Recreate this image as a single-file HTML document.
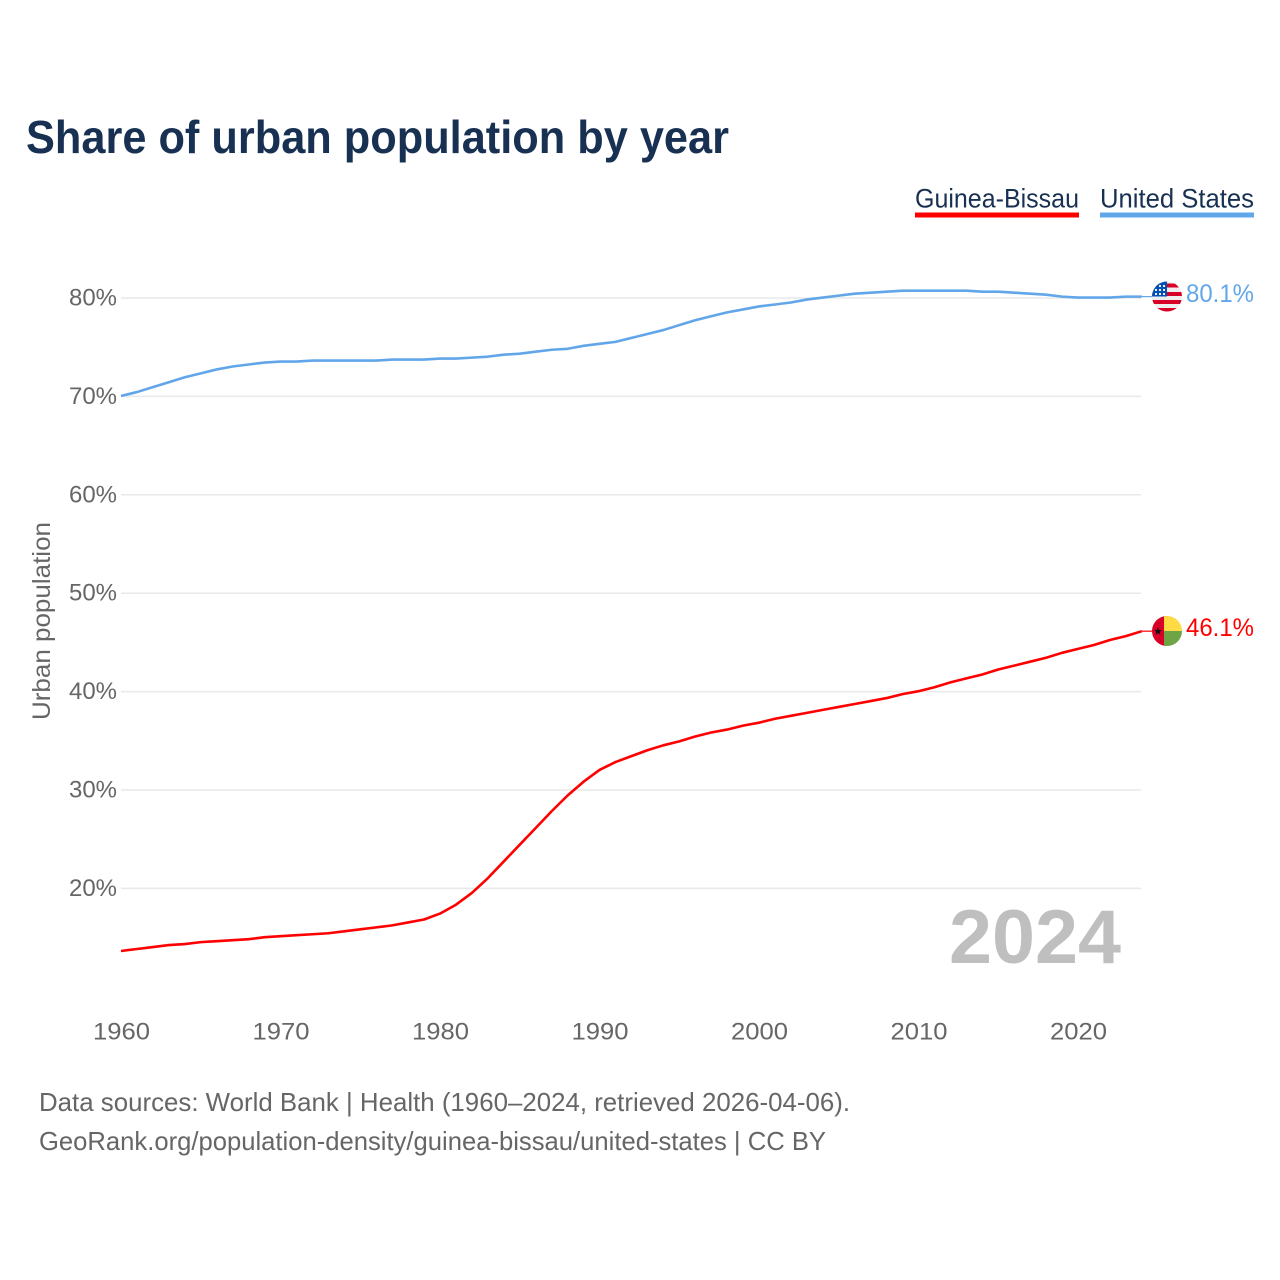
<!DOCTYPE html>
<html lang="en">
<head>
<meta charset="utf-8">
<title>Share of urban population by year</title>
<style>
html,body{margin:0;padding:0;background:#fff;}
svg{display:block;}
text{font-family:"Liberation Sans",sans-serif;}
.tick{font-size:24px;fill:#666;}
.foot{font-size:26px;fill:#666;}
</style>
</head>
<body>
<svg id="chart" xmlns="http://www.w3.org/2000/svg" width="1280" height="1280" viewBox="0 0 1280 1280">
  <defs>
    <clipPath id="clip-us"><circle cx="1167" cy="296.5" r="15"/></clipPath>
    <clipPath id="clip-gw"><circle cx="1167" cy="631" r="15"/></clipPath>
  </defs>
  <rect width="1280" height="1280" fill="#fff"/>
  <text x="26" y="153" font-size="46" font-weight="700" fill="#183153" textLength="703" lengthAdjust="spacingAndGlyphs">Share of urban population by year</text>

  <g>
    <text x="915" y="207.5" font-size="27" fill="#183153" textLength="164" lengthAdjust="spacingAndGlyphs">Guinea-Bissau</text>
    <rect x="915" y="212.5" width="164" height="5" fill="#ff0000"/>
  </g>
  <g>
    <text x="1100" y="207.5" font-size="27" fill="#183153" textLength="154" lengthAdjust="spacingAndGlyphs">United States</text>
    <rect x="1100" y="212.5" width="154" height="5" fill="#62a6ea"/>
  </g>

  <g id="grid"></g>
  <g id="yticks"></g>
  <g id="xticks"></g>
  <text transform="translate(50,720) rotate(-90)" font-size="25" fill="#666" textLength="198" lengthAdjust="spacingAndGlyphs">Urban population</text>

  <text x="949" y="963" font-size="76" font-weight="700" fill="#bfbfbf" textLength="172" lengthAdjust="spacingAndGlyphs">2024</text>

  <g id="series"></g>

  <g clip-path="url(#clip-us)">
    <rect x="1152" y="281" width="30" height="31" fill="#eeeeee"/>
    <rect x="1152" y="283.5" width="30" height="4" fill="#d80027"/>
    <rect x="1152" y="292" width="30" height="4" fill="#d80027"/>
    <rect x="1152" y="300" width="30" height="4" fill="#d80027"/>
    <rect x="1152" y="308" width="30" height="4" fill="#d80027"/>
    <rect x="1152" y="281" width="15" height="15.5" fill="#0052b4"/>
    <g fill="#eeeeee">
      <rect x="1163" y="285" width="2" height="2"/>
      <rect x="1159" y="285" width="2" height="2"/>
      <rect x="1163" y="289" width="2" height="2"/>
      <rect x="1159" y="289" width="2" height="2"/>
      <rect x="1155" y="289" width="2" height="2"/>
      <rect x="1163" y="293" width="2" height="2"/>
      <rect x="1159" y="293" width="2" height="2"/>
      <rect x="1155" y="293" width="2" height="2"/>
    </g>
  </g>
  <g clip-path="url(#clip-gw)">
    <rect x="1152" y="616" width="15" height="30" fill="#d80027"/>
    <rect x="1164" y="616" width="18" height="15" fill="#ffda44"/>
    <rect x="1164" y="631" width="18" height="15" fill="#6da544"/>
    <polygon points="1158,627 1159,630 1162,630 1159.6,631.8 1160.5,635 1158,633 1155.5,635 1156.4,631.8 1154,630 1157,630" fill="#111"/>
  </g>

  <text x="1186" y="302" font-size="25" fill="#62a6ea" textLength="68" lengthAdjust="spacingAndGlyphs">80.1%</text>
  <text x="1186" y="636" font-size="25" fill="#ff0000" textLength="68" lengthAdjust="spacingAndGlyphs">46.1%</text>

  <text class="foot" x="39" y="1111" textLength="811" lengthAdjust="spacingAndGlyphs">Data sources: World Bank | Health (1960–2024, retrieved 2026-04-06).</text>
  <text class="foot" x="39" y="1150" textLength="787" lengthAdjust="spacingAndGlyphs">GeoRank.org/population-density/guinea-bissau/united-states | CC BY</text>
</svg>
<script>
const startYear = 1960;
const xTickYears = [1960, 1970, 1980, 1990, 2000, 2010, 2020];
const yTickValues = [20, 30, 40, 50, 60, 70, 80];
const unitedStates = [70.0,70.4,70.9,71.4,71.9,72.3,72.7,73.0,73.2,73.4,73.5,73.5,73.6,73.6,73.6,73.6,73.6,73.7,73.7,73.7,73.8,73.8,73.9,74.0,74.2,74.3,74.5,74.7,74.8,75.1,75.3,75.5,75.9,76.3,76.7,77.2,77.7,78.1,78.5,78.8,79.1,79.3,79.5,79.8,80.0,80.2,80.4,80.5,80.6,80.7,80.7,80.7,80.7,80.7,80.6,80.6,80.5,80.4,80.3,80.1,80.0,80.0,80.0,80.1,80.1];
const guineaBissau = [13.6,13.8,14.0,14.2,14.3,14.5,14.6,14.7,14.8,15.0,15.1,15.2,15.3,15.4,15.6,15.8,16.0,16.2,16.5,16.8,17.4,18.3,19.5,21.0,22.7,24.4,26.1,27.8,29.4,30.8,32.0,32.8,33.4,34.0,34.5,34.9,35.4,35.8,36.1,36.5,36.8,37.2,37.5,37.8,38.1,38.4,38.7,39.0,39.3,39.7,40.0,40.4,40.9,41.3,41.7,42.2,42.6,43.0,43.4,43.9,44.3,44.7,45.2,45.6,46.1];

const NS = 'http://www.w3.org/2000/svg';
const xScale = function (year) { return 121 + (year - 1960) * 15.95; };
const yScale = function (value) { return 298 + (80 - value) * 9.84; };
const lineOffset = -0.4;

const gridGroup = document.getElementById('grid');
const yTickGroup = document.getElementById('yticks');
yTickValues.forEach(function (v) {
  const line = document.createElementNS(NS, 'line');
  
  
  line.setAttribute('x1', 121);
  line.setAttribute('x2', 1141);
  line.setAttribute('y1', yScale(v));
  line.setAttribute('y2', yScale(v));
  line.setAttribute('stroke', '#e9e9e9');
  line.setAttribute('stroke-width', '1.5');
  gridGroup.appendChild(line);

  const label = document.createElementNS(NS, 'text');
  
  
  label.setAttribute('class', 'tick');
  label.setAttribute('x', 69);
  label.setAttribute('y', yScale(v) + 7.5);
  label.setAttribute('textLength', 48);
  label.setAttribute('lengthAdjust', 'spacingAndGlyphs');
  label.textContent = v + '%';
  yTickGroup.appendChild(label);
});

const xTickGroup = document.getElementById('xticks');
xTickYears.forEach(function (yr) {
  const label = document.createElementNS(NS, 'text');
  
  
  label.setAttribute('class', 'tick');
  label.setAttribute('x', xScale(yr) - 28);
  label.setAttribute('y', 1039.5);
  label.setAttribute('textLength', 57);
  label.setAttribute('lengthAdjust', 'spacingAndGlyphs');
  label.textContent = String(yr);
  xTickGroup.appendChild(label);
});

const seriesGroup = document.getElementById('series');
function drawSeries(values, color, name) {
  const points = values.map(function (v, i) {
    return xScale(startYear + i).toFixed(2) + ',' + (yScale(v) + lineOffset).toFixed(2);
  });
  const line = document.createElementNS(NS, 'polyline');
  
  
  line.setAttribute('points', points.join(' '));
  line.setAttribute('fill', 'none');
  line.setAttribute('stroke', color);
  line.setAttribute('stroke-width', '2.6');
  line.setAttribute('stroke-linejoin', 'round');
  seriesGroup.appendChild(line);

  const last = values[values.length - 1];
  const stub = document.createElementNS(NS, 'line');
  
  
  stub.setAttribute('x1', xScale(startYear + values.length - 1));
  stub.setAttribute('x2', 1152);
  stub.setAttribute('y1', yScale(last) + lineOffset);
  stub.setAttribute('y2', yScale(last) + lineOffset);
  stub.setAttribute('stroke', color);
  stub.setAttribute('stroke-width', '1.2');
  seriesGroup.appendChild(stub);
}
drawSeries(unitedStates, '#62a6ea', 'united-states');
drawSeries(guineaBissau, '#ff0000', 'guinea-bissau');
</script>
</body>
</html>
